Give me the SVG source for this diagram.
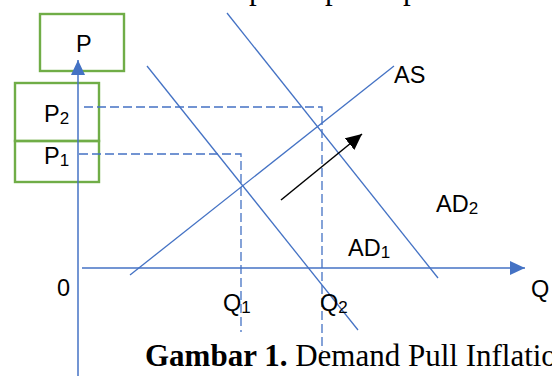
<svg xmlns="http://www.w3.org/2000/svg" width="552" height="376" viewBox="0 0 552 376">
  <style>
    .box { fill: none; stroke: #70AD47; stroke-width: 2.4; }
    .ax { fill: none; stroke: #4472C4; stroke-width: 1.5; }
    .crv { fill: none; stroke: #4472C4; stroke-width: 1.3; }
    .dash { fill: none; stroke: #4472C4; stroke-width: 1.3; stroke-dasharray: 9 4; }
    .lbl { font-family: "Liberation Sans", Arial, sans-serif; font-size: 23.5px; fill: #000; }
    .sub { font-size: 17px; }
    .cap { font-family: "Liberation Serif", "Times New Roman", serif; font-size: 31px; fill: #000; }
  </style>
  <defs>
    <marker id="blueHead" markerWidth="15" markerHeight="14" refX="15" refY="7" orient="auto" markerUnits="userSpaceOnUse">
      <path d="M0,0 L15,7 L0,14 Z" fill="#4472C4"/>
    </marker>
    <marker id="blackHead" markerWidth="16" markerHeight="15" refX="16" refY="7.5" orient="auto" markerUnits="userSpaceOnUse">
      <path d="M0,0 L16,7.5 L0,15 Z" fill="#000"/>
    </marker>
  </defs>

  <!-- cut-off text line above -->
  <g id="top-fragments" class="cap">
    <text x="249" y="-1">p</text>
    <text x="325" y="-1">p</text>
    <text x="403" y="-1">p</text>
  </g>

  <g id="box-P">
    <rect class="box" x="40" y="14" width="84" height="57"/>
    <text class="lbl" x="76" y="52">P</text>
  </g>
  <g id="box-P2">
    <rect class="box" x="15" y="83" width="84" height="58"/>
    <text class="lbl" x="44" y="122">P<tspan class="sub" dy="2">2</tspan></text>
  </g>
  <g id="box-P1">
    <rect class="box" x="15" y="141" width="84" height="41"/>
    <text class="lbl" x="44" y="164">P<tspan class="sub" dy="2">1</tspan></text>
  </g>

  <g id="connectors">
    <!-- axes -->
    <line class="ax" x1="78" y1="376" x2="78" y2="60" marker-end="url(#blueHead)"/>
    <line class="ax" x1="82" y1="268" x2="525" y2="268" marker-end="url(#blueHead)"/>
    <!-- dashed guides -->
    <polyline class="dash" points="84,107 322,107 322,351"/>
    <polyline class="dash" points="79,154 241,154 241,332"/>
    <!-- curves -->
    <line class="crv" x1="130" y1="275" x2="394" y2="66"/>
    <line class="crv" x1="147" y1="66" x2="358" y2="330"/>
    <line class="crv" x1="227" y1="13" x2="438" y2="278"/>
    <!-- shift arrow -->
    <line x1="281" y1="200" x2="362" y2="134" stroke="#000" stroke-width="1.5" marker-end="url(#blackHead)"/>
  </g>

  <g id="labels" class="lbl">
    <text x="394" y="83">AS</text>
    <text x="436" y="212">AD<tspan class="sub" dy="2">2</tspan></text>
    <text x="348" y="256">AD<tspan class="sub" dy="2">1</tspan></text>
    <text x="57" y="296">0</text>
    <text x="223" y="311">Q<tspan class="sub" dy="2">1</tspan></text>
    <text x="320" y="311">Q<tspan class="sub" dy="2">2</tspan></text>
    <text x="531" y="297">Q</text>
  </g>

  <g id="caption" class="cap">
    <text x="145" y="366"><tspan font-weight="bold">Gambar 1.</tspan> Demand Pull Inflation</text>
  </g>
</svg>
